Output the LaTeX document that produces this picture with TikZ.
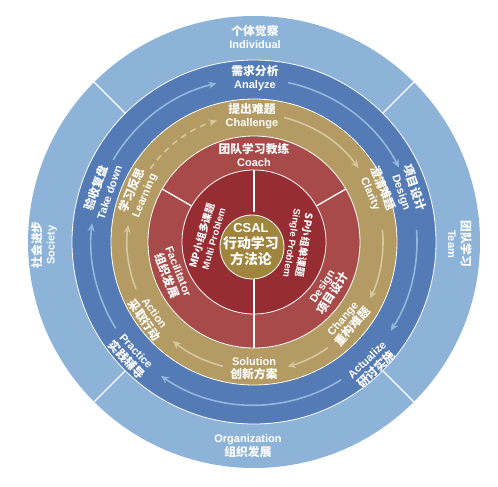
\documentclass[tikz,border=0pt]{standalone}
\usepackage{fontspec}
\setmainfont{Liberation Sans}
\newfontfamily\cjkfont{Noto Sans CJK SC}[Scale=1.07]
\newcommand\zhtxt[1]{{\cjkfont\bfseries #1}}
\usetikzlibrary{arrows.meta}
\definecolor{lblue}{HTML}{8DB3D9}
\definecolor{dblue}{HTML}{557BB6}
\definecolor{goldring}{HTML}{B39B63}
\definecolor{redo}{HTML}{A84A4A}
\definecolor{redi}{HTML}{962D33}
\definecolor{core}{HTML}{A0853F}
\definecolor{barrow}{HTML}{93B7DC}
\definecolor{garrow}{HTML}{D6C79F}
\begin{document}
\begin{tikzpicture}[x=1pt,y=1pt,
 lab/.style={text=white, align=center, inner sep=0pt, font=\bfseries\fontsize{11}{13.5}\selectfont},
 labs/.style={lab, font=\bfseries\fontsize{11}{13}\selectfont},
 labi/.style={lab, font=\bfseries\fontsize{9.5}{12}\selectfont},
 ringline/.style={draw=white, line width=0.8pt},
 divider/.style={draw=white, line width=1.3pt},
 barc/.style={draw=barrow, line width=1.6pt, -{Stealth[length=8pt,width=7pt]}},
 garc/.style={draw=garrow, line width=1.6pt, -{Stealth[length=8pt,width=7pt]}}]
\useasboundingbox[fill=white] (-254,-245) rectangle (244,242);
% rings
\fill[lblue] (0,0) circle[radius=226];
\filldraw[ringline, fill=dblue] (0,0) circle[radius=182];
\filldraw[ringline, fill=goldring] (0,0) circle[radius=143];
\filldraw[ringline, fill=redo] (0,0) circle[radius=106];
\filldraw[ringline, fill=redi] (0,0) circle[radius=72];
% dividers
\foreach \a in {45,135,225,315} \draw[divider] (\a:182) -- (\a:226);
\foreach \a in {30,150} \draw[divider] (\a:72) -- (\a:106);
\draw[divider] (90:30) -- (90:72);
\draw[divider] (270:30) -- (270:106);
% core
\filldraw[ringline, fill=core] (-2,-5) circle[radius=32];
\node[text=white, align=center, inner sep=0pt, font=\bfseries\fontsize{13}{16}\selectfont] (core) at (-3,-3) {CSAL\\\zhtxt{行动学习}\\\zhtxt{方法论}};
% outer labels
\node[lab] (indiv) at (1,205) {\zhtxt{个体觉察}\\Individual};
\node[lab, rotate=-90] (team) at (206,-2) {\zhtxt{团队学习}\\Team};
\node[lab] (org) at (-6,-204) {Organization\\\zhtxt{组织发展}};
\node[lab, rotate=90] (soc) at (-210,-3) {\zhtxt{社会进步}\\Society};
% dark blue labels
\node[lab] (analyze) at (1,164) {\zhtxt{需求分析}\\Analyze};
\node[lab, rotate=-71] (design) at (154,52) {\zhtxt{项目设计}\\Design};
\node[lab, rotate=44] (actualize) at (118,-123) {Actualize\\\zhtxt{研讨实施}};
\node[lab, rotate=-47] (practice) at (-123,-114) {Practice\\\zhtxt{实践辅导}};
\node[lab, rotate=71] (takedown) at (-152,52) {\zhtxt{验收复盘}\\Take down};
% dark blue arrows
\draw[barc] (149.8:163) arc[start angle=149.8, end angle=103.3, radius=163];
\draw[barc] (77.9:163) arc[start angle=77.9, end angle=27.2, radius=163];
\draw[barc] (4.2:163) arc[start angle=4.2, end angle=-33, radius=163];
\draw[barc] (-57.7:163) arc[start angle=-57.7, end angle=-124.8, radius=163];
\draw[barc] (212:163) arc[start angle=212, end angle=173.4, radius=163];
% gold labels
\node[labs] (challenge) at (-2,126) {\zhtxt{提出难题}\\Challenge};
\node[labs, rotate=-67] (clarity) at (123,51) {\zhtxt{澄清难题}\\Clarity};
\node[labs, rotate=49] (change) at (94,-81) {Change\\\zhtxt{重构难题}};
\node[labs] (solution) at (0,-127) {Solution\\\zhtxt{创新方案}};
\node[labs, rotate=-54] (action) at (-105,-75) {Action\\\zhtxt{采取行动}};
\node[labs, rotate=67] (learning) at (-116,49) {\zhtxt{学习反思}\\Learning};
% gold arrows
\draw[garc, dash pattern=on 6pt off 5pt] (144.8:127) arc[start angle=144.8, end angle=107, radius=127];
\draw[garc] (76.4:128) arc[start angle=76.4, end angle=35.3, radius=128];
\draw[garc] (5.4:129) arc[start angle=5.4, end angle=-26, radius=129];
\draw[garc] (-55:129) arc[start angle=-55, end angle=-74.9, radius=129];
\draw[garc] (256:128) arc[start angle=256, end angle=230.6, radius=128];
\draw[garc] (201.6:127) arc[start angle=201.6, end angle=172.3, radius=127];
% red labels
\node[labs] (coach) at (0,87) {\zhtxt{团队学习教练}\\Coach};
\node[labs, rotate=-68] (facil) at (-82,-32) {Facilitator\\\zhtxt{组织发展}};
\node[labs, rotate=57] (rdesign) at (74,-48) {Design\\\zhtxt{项目设计}};
% inner labels
\node[labi, rotate=74] (mp) at (-47,5) {\zhtxt{MP小组多课题}\\Multi Problem};
\node[labi, rotate=-99] (sp) at (44,-2) {\zhtxt{SP小组单课题}\\Single Problem};
\end{tikzpicture}
\end{document}
